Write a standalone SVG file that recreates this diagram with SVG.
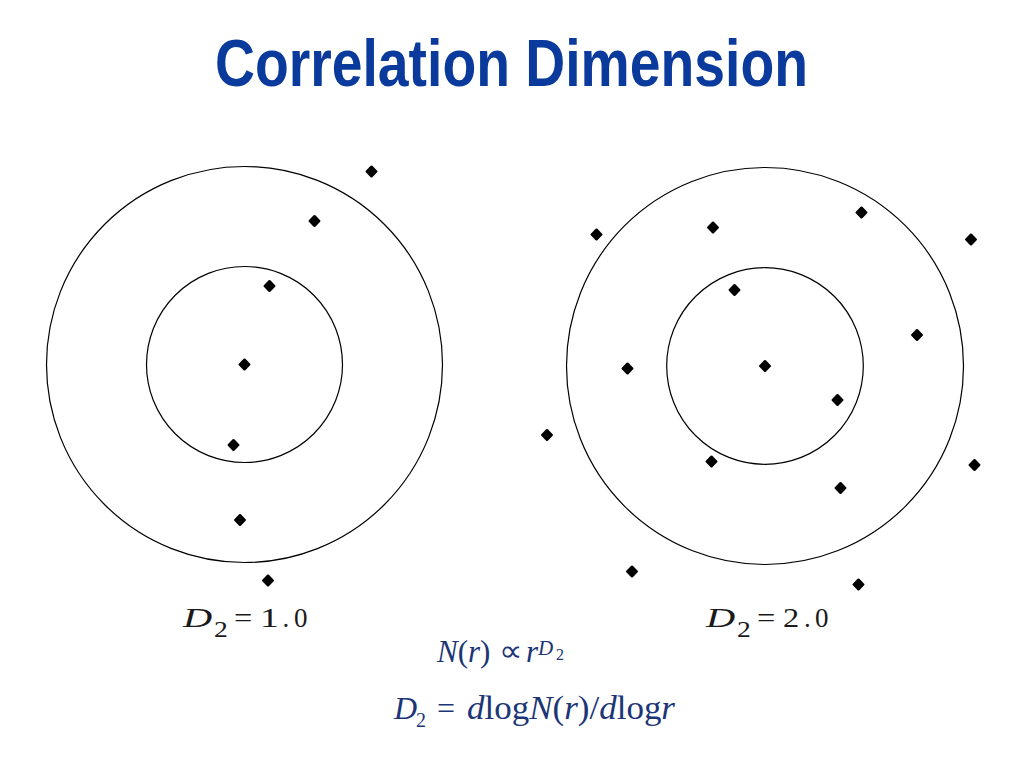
<svg xmlns="http://www.w3.org/2000/svg" width="1024" height="768" viewBox="0 0 1024 768">
<style>
.ring{fill:none;stroke:#000;stroke-width:1.2}
.dot{fill:#000;stroke:#000;stroke-width:2.4;stroke-linejoin:round}
.title{font-family:"Liberation Sans",Arial,sans-serif;font-weight:bold;font-size:66px;fill:#0a3a9c}
.lab{font-family:"Liberation Serif","Times New Roman",serif;font-size:27px;fill:#1a1a1a}
.eq{font-family:"Liberation Serif","Times New Roman",serif;font-size:31px;fill:#1c3577}
.it{font-style:italic}
</style>
<defs>
<path id="d" class="dot" d="M0,-4.8 L4.8,0 L0,4.8 L-4.8,0 Z"/>
</defs>
<rect width="1024" height="768" fill="#fff"/>
<g id="title"><text class="title" x="215" y="86" textLength="593" lengthAdjust="spacingAndGlyphs">Correlation Dimension</text></g>
<g id="left-panel">
<circle class="ring" cx="244.5" cy="364.5" r="198"/>
<circle class="ring" cx="244.5" cy="364.5" r="98"/>
<use href="#d" x="371.5" y="171.5"/>
<use href="#d" x="314.5" y="221"/>
<use href="#d" x="269.5" y="286"/>
<use href="#d" x="244.5" y="364.5"/>
<use href="#d" x="233.5" y="445"/>
<use href="#d" x="240" y="520"/>
<use href="#d" x="268" y="580.5"/>
</g>
<g id="right-panel">
<circle class="ring" cx="765" cy="366" r="198.5"/>
<circle class="ring" cx="765" cy="366" r="98.3"/>
<use href="#d" x="596.5" y="234.5"/>
<use href="#d" x="713" y="227.5"/>
<use href="#d" x="861.5" y="212.5"/>
<use href="#d" x="971" y="239.5"/>
<use href="#d" x="734.5" y="290"/>
<use href="#d" x="917" y="335"/>
<use href="#d" x="627.5" y="368.5"/>
<use href="#d" x="765" y="366"/>
<use href="#d" x="837.5" y="400"/>
<use href="#d" x="547" y="435"/>
<use href="#d" x="711.5" y="461.5"/>
<use href="#d" x="974.5" y="465"/>
<use href="#d" x="840.5" y="488"/>
<use href="#d" x="632" y="571.5"/>
<use href="#d" x="858.5" y="584.5"/>
</g>
<g id="label-left">
<text class="lab it" transform="translate(183,627) scale(1.5,1)">D</text>
<text class="lab" style="font-size:24px" transform="translate(214,637) scale(1.15,1)">2</text>
<text class="lab" transform="translate(234,627) scale(1.2,1)">=</text>
<text class="lab" transform="translate(260,627) scale(1.4,1)">1</text>
<text class="lab" x="282.5" y="627">.</text>
<text class="lab" x="294" y="627">0</text>
</g>
<g id="label-right">
<text class="lab it" transform="translate(706,627) scale(1.5,1)">D</text>
<text class="lab" style="font-size:24px" transform="translate(737,637) scale(1.15,1)">2</text>
<text class="lab" transform="translate(757,627) scale(1.2,1)">=</text>
<text class="lab" transform="translate(783,627) scale(1.2,1)">2</text>
<text class="lab" x="804" y="627">.</text>
<text class="lab" x="815" y="627">0</text>
</g>
<g id="eq1">
<text class="eq" y="662"><tspan class="it" x="437">N</tspan><tspan>(</tspan><tspan class="it">r</tspan><tspan>)</tspan></text>
<text class="eq" transform="translate(499,661) scale(1.1,1)" style="font-size:30px">∝</text>
<text class="eq it" x="526" y="662">r</text>
<text class="eq it" x="538" y="655" style="font-size:21px">D</text>
<text class="eq" x="556" y="660" style="font-size:16px">2</text>
</g>
<g id="eq2">
<text class="eq it" x="394" y="719" style="font-size:32px">D</text>
<text class="eq" x="416" y="727" style="font-size:20px">2</text>
<text class="eq" x="437" y="719" style="font-size:32px">=</text>
<text class="eq" y="719" style="font-size:33px" textLength="208" lengthAdjust="spacingAndGlyphs"><tspan class="it" x="467">d</tspan><tspan>log</tspan><tspan class="it">N</tspan><tspan>(</tspan><tspan class="it">r</tspan><tspan>)/</tspan><tspan class="it">d</tspan><tspan>log</tspan><tspan class="it">r</tspan></text>
</g>
</svg>
